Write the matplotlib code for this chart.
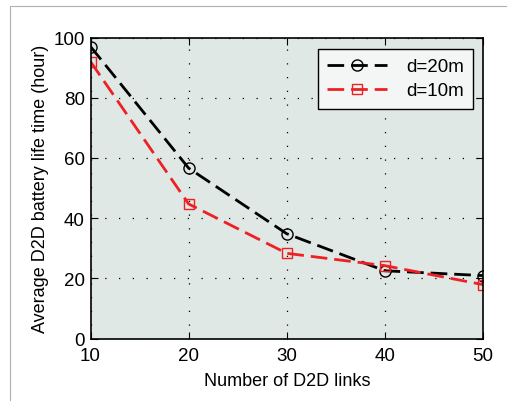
import matplotlib.pyplot as plt
from matplotlib.patches import Rectangle

links = [10, 20, 30, 40, 50]
life_20m = [97, 56.6, 34.8, 22.5, 20.9]
life_10m = [92, 44.7, 28.3, 24.2, 17.9]

plt.rcParams['font.family'] = ['Liberation Sans', 'DejaVu Sans']

fig = plt.figure(figsize=(5.07, 4.02), dpi=100)
# light frame around the figure, clipped on right/bottom like the reference
fig.patches.append(Rectangle((10 / 507, -0.05), 1.2, (402 - 7) / 402 + 0.05,
                             transform=fig.transFigure, fill=False,
                             edgecolor='#b0b0b0', linewidth=0.8))

ax = fig.add_axes([90.5 / 507, 1 - 339.5 / 402, (483 - 90.5) / 507, (339.5 - 38.5) / 402])
ax.set_facecolor('#dfe8e4')

dash = (0, (6, 2.5))
ax.plot(links, life_20m, color='black', linestyle=dash, linewidth=2,
        marker='o', markersize=8, markerfacecolor='none', markeredgecolor='black',
        markeredgewidth=1, label='d=20m')
ax.plot(links, life_10m, color='#ee2024', linestyle=dash, linewidth=2,
        marker='s', markersize=7.5, markerfacecolor='none', markeredgecolor='#ee2024',
        markeredgewidth=1, label='d=10m')

ax.set_xlim(10, 50)
ax.set_ylim(0, 100)
ax.set_xticks(links)
ax.set_yticks([0, 20, 40, 60, 80, 100])
ax.grid(True, color='black', linestyle=(0, (1, 10)), linewidth=0.9)
ax.tick_params(direction='in', top=True, right=True, length=5, labelsize=13.5)
ax.tick_params(axis='x', pad=6)
ax.tick_params(axis='y', pad=4)
for s in ax.spines.values():
    s.set_linewidth(1.2)

ax.set_xlabel('Number of D2D links', fontsize=13, labelpad=6)
ax.set_ylabel('Average D2D battery life time (hour)', fontsize=13, labelpad=3)

leg = ax.legend(loc='upper right', fontsize=13.5, fancybox=False, framealpha=1,
                edgecolor='black', handlelength=3.2, borderpad=0.5, handletextpad=1.0,
                labelspacing=0.35, borderaxespad=0, bbox_to_anchor=(0.975, 0.962))
leg.get_frame().set_facecolor('#f3f6f4')
leg.get_frame().set_linewidth(1.0)

fig.savefig('out.png', dpi=100)
